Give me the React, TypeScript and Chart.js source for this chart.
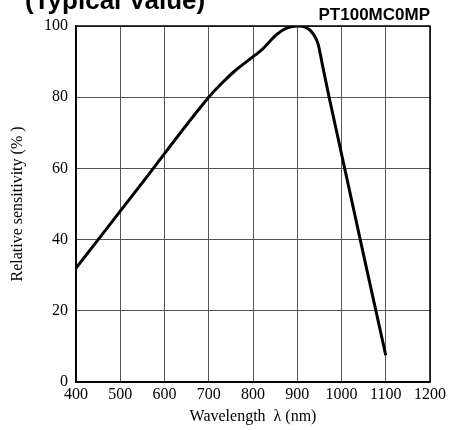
import React, { useEffect, useRef } from "react";
import { Chart, registerables } from "chart.js";

Chart.register(...registerables);

const wavelengths = [400, 550, 700, 730, 760, 793, 822, 853, 877, 900, 920, 936, 947, 957, 972, 1100];
const sensitivity = [32, 56, 80, 84, 87.5, 90.7, 93.6, 97.6, 99.5, 100, 99.6, 97.8, 95, 89, 80, 7.5];
const xTickRange = [400, 1200];
const yTickRange = [0, 100];
const titleText = "(Typical Value)";
const modelText = "PT100MC0MP";
const xTitle = "Wavelength  λ (nm)";
const yTitle = "Relative sensitivity (% )";

const SERIF = "'Liberation Serif', 'Times New Roman', serif";
const SANS = "'Liberation Sans', Arial, sans-serif";

export default function App() {
  const ref = useRef<HTMLCanvasElement | null>(null);

  useEffect(() => {
    if (!ref.current) return;
    const decor = {
      id: "decor",
      afterDraw(chart: any) {
        const ctx = chart.ctx;
        const a = chart.chartArea;
        ctx.save();
        ctx.strokeStyle = "#000";
        ctx.lineWidth = 1.5;
        ctx.strokeRect(a.left, a.top, a.right - a.left, a.bottom - a.top);
        ctx.fillStyle = "#000";
        ctx.textBaseline = "alphabetic";
        ctx.font = `bold 26px ${SANS}`;
        ctx.textAlign = "left";
        ctx.fillText(titleText, 25, 9);
        ctx.font = `bold 17px ${SANS}`;
        ctx.textAlign = "right";
        ctx.fillText(modelText, a.right, 20);
        ctx.restore();
      },
    };
    const chart = new Chart(ref.current, {
      type: "line",
      data: {
        datasets: [
          {
            data: wavelengths.map((x, i) => ({ x, y: sensitivity[i] })),
            borderColor: "#000",
            borderWidth: 3,
            pointRadius: 0,
            cubicInterpolationMode: "monotone",
            fill: false,
          },
        ],
      },
      options: {
        animation: false,
        responsive: false,
        devicePixelRatio: 1,
        layout: { padding: { top: 26, right: 21, left: 0, bottom: 0 } },
        plugins: { legend: { display: false }, tooltip: { enabled: false }, title: { display: false } },
        scales: {
          x: {
            type: "linear",
            min: xTickRange[0],
            max: xTickRange[1],
            ticks: {
              stepSize: 100,
              color: "#000",
              padding: 3,
              font: { family: SERIF, size: 16 },
              maxRotation: 0,
              callback: (v: any) => String(v),
            },
            grid: { color: "#555", lineWidth: 1, drawTicks: false },
            border: { color: "#000", width: 1.5 },
            title: { display: true, text: xTitle, color: "#000", font: { family: SERIF, size: 16 }, padding: { top: 0, bottom: 4 } },
            afterFit: (s: any) => { s.height = 48; },
          },
          y: {
            min: yTickRange[0],
            max: yTickRange[1],
            ticks: { stepSize: 20, color: "#000", padding: 8, font: { family: SERIF, size: 16 }, callback: (v: any) => String(v) },
            grid: { color: "#555", lineWidth: 1, drawTicks: false },
            border: { color: "#000", width: 1.5 },
            title: { display: true, text: yTitle, color: "#000", font: { family: SERIF, size: 16 }, padding: { top: 8, bottom: 0 } },
            afterFit: (s: any) => { s.width = 76; },
          },
        },
      },
      plugins: [decor],
    } as any);
    return () => chart.destroy();
  }, []);

  return (
    <div style={{ position: "absolute", left: 0, top: 0, width: 451, height: 430, background: "#fff" }}>
      <canvas ref={ref} width={451} height={430} style={{ display: "block", width: 451, height: 430 }} />
    </div>
  );
}
